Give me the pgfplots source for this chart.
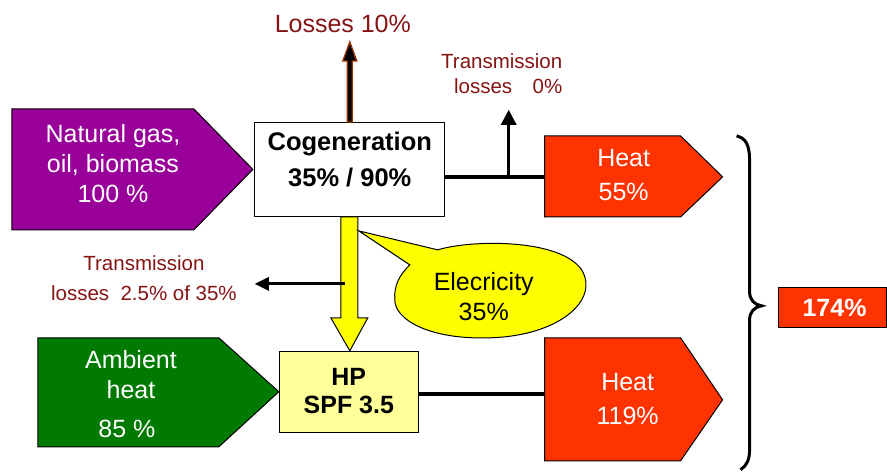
\documentclass[border=0pt]{standalone}
\usepackage{pgfplots}
\pgfplotsset{compat=1.18}
\usepackage{fontspec}
\setmainfont{Liberation Sans}
\definecolor{purp}{HTML}{990099}
\definecolor{grn}{HTML}{007A00}
\definecolor{heat}{HTML}{FF3300}
\definecolor{ylw}{HTML}{FFFF00}
\definecolor{lylw}{HTML}{FFFF99}
\definecolor{dred}{HTML}{851414}
\definecolor{brn}{HTML}{993300}
\begin{document}
\begin{tikzpicture}
\begin{axis}[scale only axis, width=887pt, height=471pt,
  xmin=0, xmax=887, ymin=0, ymax=471, y dir=reverse,
  hide axis, clip=false]
% invisible frame
\path (axis cs:0,0) rectangle (axis cs:887,471);
% purple input
\draw[fill=purp, line width=1pt] (axis cs:12,109) -- (axis cs:194,109) -- (axis cs:253,169.5) -- (axis cs:194,230) -- (axis cs:12,230) -- cycle;
\node[align=center, text=white, font=\fontsize{25}{30}\selectfont] at (axis cs:113,164) {Natural gas,\\oil, biomass\\100 \%};
% cogeneration box
\draw[fill=white, line width=1pt] (axis cs:255,123) rectangle (axis cs:445,217);
\node[align=center, font=\fontsize{25.5}{36}\selectfont\bfseries] at (axis cs:350,160) {Cogeneration\\35\% / 90\%};
% losses arrow
\draw[fill=black, draw=brn, line width=1.3pt] (axis cs:347.5,122) -- (axis cs:347.5,61) -- (axis cs:343,61) -- (axis cs:350,42) -- (axis cs:357,61) -- (axis cs:352.5,61) -- (axis cs:352.5,122) -- cycle;
\node[text=dred, font=\fontsize{25}{26}\selectfont] at (axis cs:343,24) {Losses 10\%};
% top heat line and transmission arrow
\draw[line width=3.5pt] (axis cs:445,177) -- (axis cs:546,177);
\draw[line width=3pt] (axis cs:509,178) -- (axis cs:509,122);
\fill (axis cs:501,125) -- (axis cs:509,110) -- (axis cs:517,125) -- cycle;
\node[text=dred, align=right, font=\fontsize{20.5}{25}\selectfont] at (axis cs:502,74) {Transmission\\losses\quad 0\%};
% top heat
\draw[fill=heat, line width=1pt] (axis cs:545,136) -- (axis cs:681,136) -- (axis cs:723,177) -- (axis cs:681,217) -- (axis cs:545,217) -- cycle;
\node[align=center, text=white, font=\fontsize{25}{34}\selectfont] at (axis cs:624,175) {Heat\\55\%};
% yellow arrow
\draw[fill=ylw, line width=1pt] (axis cs:341,217) -- (axis cs:358,217) -- (axis cs:358,318) -- (axis cs:368,318) -- (axis cs:350,351) -- (axis cs:331,318) -- (axis cs:341,318) -- cycle;
% electricity callout
\draw[fill=ylw, line width=1pt] (axis cs:359,231) -- (axis cs:438,250)
  .. controls (axis cs:470,240) and (axis cs:560,238) .. (axis cs:582,270)
  .. controls (axis cs:600,300) and (axis cs:560,336) .. (axis cs:490,338)
  .. controls (axis cs:430,340) and (axis cs:395,320) .. (axis cs:395,300)
  .. controls (axis cs:394,285) and (axis cs:400,275) .. (axis cs:410,265) -- cycle;
\node[align=center, font=\fontsize{25}{30}\selectfont] at (axis cs:484,297) {Elecricity\\35\%};
% transmission losses left
\draw[line width=3pt] (axis cs:345,284) -- (axis cs:265,284);
\fill (axis cs:269,277) -- (axis cs:255,284) -- (axis cs:269,291) -- cycle;
\node[text=dred, align=center, font=\fontsize{20.5}{30}\selectfont] at (axis cs:144,278) {Transmission\\losses\ \ 2.5\% of 35\%};
% ambient heat
\draw[fill=grn, line width=1pt] (axis cs:38,338) -- (axis cs:219,338) -- (axis cs:279,392) -- (axis cs:219,447) -- (axis cs:38,447) -- cycle;
\node[text=white, font=\fontsize{25}{26}\selectfont] at (axis cs:131,360) {Ambient};
\node[text=white, font=\fontsize{25}{26}\selectfont] at (axis cs:131,390) {heat};
\node[text=white, font=\fontsize{25}{26}\selectfont] at (axis cs:127,429) {85 \%};
% HP box
\draw[fill=lylw, line width=1pt] (axis cs:280,352) rectangle (axis cs:419,433);
\node[align=center, font=\fontsize{25}{28}\selectfont\bfseries] at (axis cs:349,391) {HP\\SPF 3.5};
\draw[line width=3.5pt] (axis cs:419,394) -- (axis cs:546,394);
% bottom heat
\draw[fill=heat, line width=1pt] (axis cs:545,338) -- (axis cs:681,338) -- (axis cs:723,400) -- (axis cs:681,461) -- (axis cs:545,461) -- cycle;
\node[align=center, text=white, font=\fontsize{25}{34}\selectfont] at (axis cs:628,399) {Heat\\119\%};
% brace
\draw[line width=3pt] (axis cs:737,136) .. controls (axis cs:746,138) and (axis cs:750,145) .. (axis cs:750,160)
  -- (axis cs:750,292) .. controls (axis cs:750,300) and (axis cs:755,305) .. (axis cs:762,306)
  .. controls (axis cs:755,307) and (axis cs:750,312) .. (axis cs:750,320)
  -- (axis cs:750,450) .. controls (axis cs:750,460) and (axis cs:747,466) .. (axis cs:741,470);
% 174 box
\draw[fill=heat, line width=1pt] (axis cs:779,288) rectangle (axis cs:887,328);
\node[text=white, font=\fontsize{25}{26}\selectfont\bfseries] at (axis cs:835,308) {174\%};
\end{axis}
\end{tikzpicture}
\end{document}
